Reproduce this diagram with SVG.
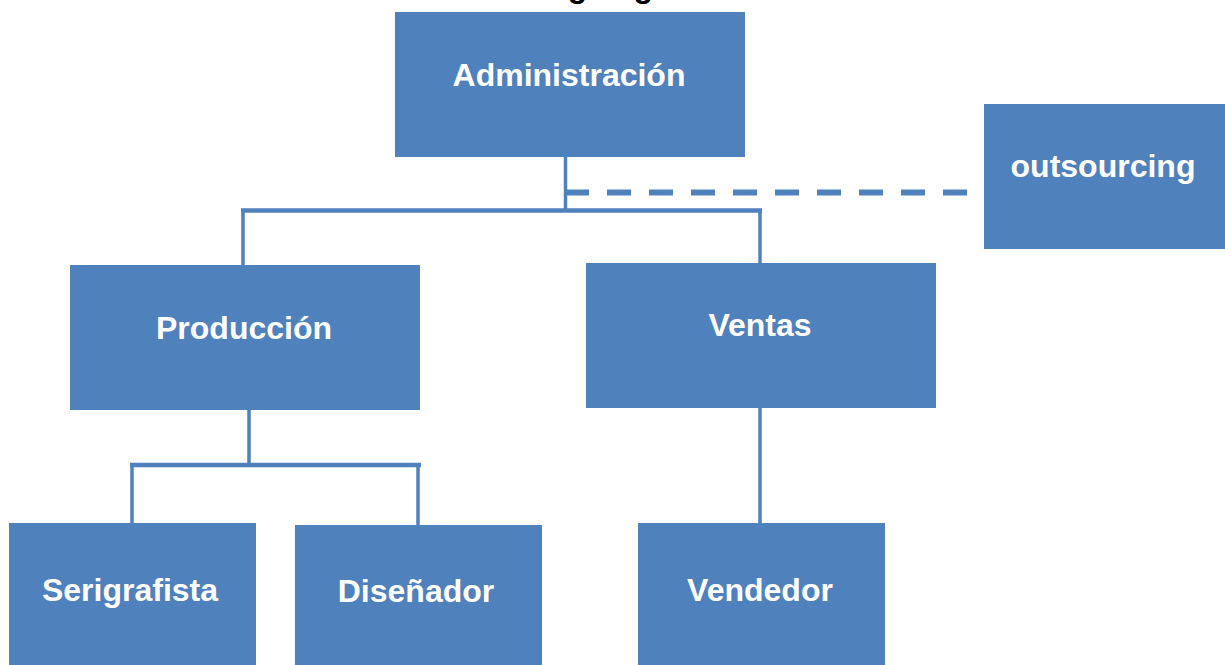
<svg xmlns="http://www.w3.org/2000/svg" width="1225" height="665" viewBox="0 0 1225 665">
<style>
.box{fill:#4F81BD}
.lbl{font-family:"Liberation Sans",Arial,sans-serif;font-weight:bold;font-size:32px;fill:#fff;text-anchor:middle}
.ln{stroke:#4F81BD;fill:none}
</style>
<rect width="1225" height="665" fill="#fff"/>
<text x="630" y="-3" font-family="Liberation Sans, Arial, sans-serif" font-weight="bold" font-size="32" fill="#000" text-anchor="middle">Organigrama</text>
<g id="connectors">
<line class="ln" x1="565.5" y1="156" x2="565.5" y2="211" stroke-width="3.5"/>
<line class="ln" x1="565" y1="192.5" x2="968" y2="192.5" stroke-width="6" stroke-dasharray="24 18"/>
<line class="ln" x1="241" y1="210.5" x2="762" y2="210.5" stroke-width="4.5"/>
<line class="ln" x1="243" y1="210" x2="243" y2="266" stroke-width="3.5"/>
<line class="ln" x1="760" y1="210" x2="760" y2="264" stroke-width="3.5"/>
<line class="ln" x1="249" y1="409" x2="249" y2="466" stroke-width="3.5"/>
<line class="ln" x1="130" y1="465" x2="421" y2="465" stroke-width="4.5"/>
<line class="ln" x1="132" y1="465" x2="132" y2="524" stroke-width="3.5"/>
<line class="ln" x1="418" y1="465" x2="418" y2="526" stroke-width="3.5"/>
<line class="ln" x1="760" y1="407" x2="760" y2="524" stroke-width="3.5"/>
</g>
<g id="administracion"><rect class="box" x="395" y="12" width="350" height="145"/><text class="lbl" x="569" y="86">Administración</text></g>
<g id="outsourcing"><rect class="box" x="984" y="104" width="241" height="145"/><text class="lbl" x="1103" y="177">outsourcing</text></g>
<g id="produccion"><rect class="box" x="70" y="265" width="350" height="145"/><text class="lbl" x="244" y="339">Producción</text></g>
<g id="ventas"><rect class="box" x="586" y="263" width="350" height="145"/><text class="lbl" x="760" y="336">Ventas</text></g>
<g id="serigrafista"><rect class="box" x="9" y="523" width="247" height="142"/><text class="lbl" x="130" y="601">Serigrafista</text></g>
<g id="disenador"><rect class="box" x="295" y="525" width="247" height="140"/><text class="lbl" x="416" y="602">Diseñador</text></g>
<g id="vendedor"><rect class="box" x="638" y="523" width="247" height="142"/><text class="lbl" x="760" y="601">Vendedor</text></g>
</svg>
